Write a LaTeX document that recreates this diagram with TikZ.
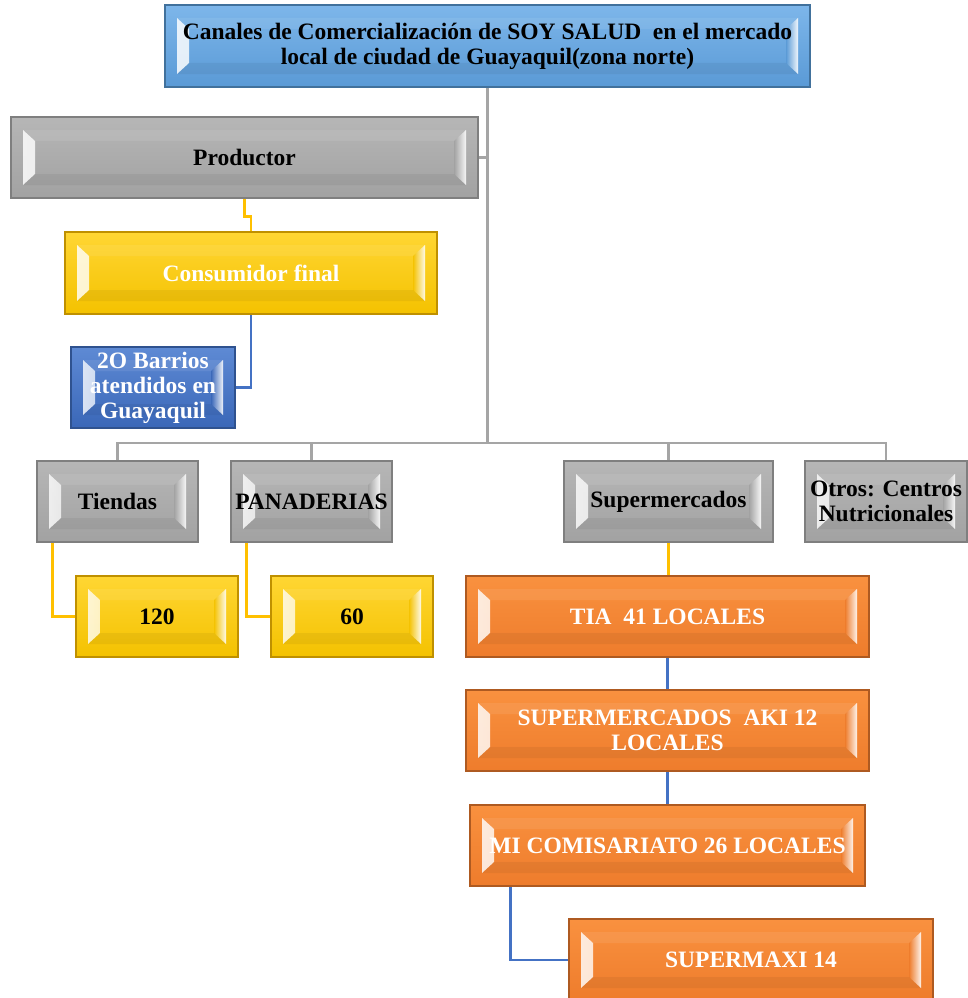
\documentclass[tikz,border=0pt]{standalone}
\usepackage{fontspec}
\setmainfont{Liberation Serif}
\usetikzlibrary{backgrounds}
\definecolor{gTop}{HTML}{B6B6B6}\definecolor{gBot}{HTML}{A2A2A2}\definecolor{gBrd}{HTML}{7F7F7F}
\definecolor{tTop}{HTML}{7DB6EA}\definecolor{tBot}{HTML}{5A9AD6}\definecolor{tBrd}{HTML}{41719C}
\definecolor{yTop}{HTML}{FFD633}\definecolor{yBot}{HTML}{F4C200}\definecolor{yBrd}{HTML}{BF9000}
\definecolor{bTop}{HTML}{5E8AD4}\definecolor{bBot}{HTML}{3A67B8}\definecolor{bBrd}{HTML}{2F528F}
\definecolor{oTop}{HTML}{F9913F}\definecolor{oBot}{HTML}{EE7C2C}\definecolor{oBrd}{HTML}{AE5A21}
\definecolor{lnG}{HTML}{A5A5A5}\definecolor{lnY}{HTML}{FFC000}\definecolor{lnB}{HTML}{4472C4}
\tikzset{
  bev/.style n args={3}{draw=#3, line width=1.3pt, inner sep=0pt, align=center,
    top color=#1, bottom color=#2,
    font=\bfseries\fontsize{23.5}{25}\selectfont,
    path picture={
      \shade[left color=white, right color=#1, opacity=.85]
        ([shift={(12pt,-13pt)}]path picture bounding box.north west) --
        ([shift={(24pt,-24pt)}]path picture bounding box.north west) --
        ([shift={(24pt,24pt)}]path picture bounding box.south west) --
        ([shift={(12pt,13pt)}]path picture bounding box.south west) -- cycle;
      \shade[left color=#2, right color=white, opacity=.9]
        ([shift={(-12pt,-13pt)}]path picture bounding box.north east) --
        ([shift={(-24pt,-24pt)}]path picture bounding box.north east) --
        ([shift={(-24pt,24pt)}]path picture bounding box.south east) --
        ([shift={(-12pt,13pt)}]path picture bounding box.south east) -- cycle;
      \fill[white, opacity=.08]
        ([shift={(12pt,-13pt)}]path picture bounding box.north west) --
        ([shift={(-12pt,-13pt)}]path picture bounding box.north east) --
        ([shift={(-24pt,-24pt)}]path picture bounding box.north east) --
        ([shift={(24pt,-24pt)}]path picture bounding box.north west) -- cycle;
      \fill[black, opacity=.05]
        ([shift={(12pt,13pt)}]path picture bounding box.south west) --
        ([shift={(-12pt,13pt)}]path picture bounding box.south east) --
        ([shift={(-24pt,24pt)}]path picture bounding box.south east) --
        ([shift={(24pt,24pt)}]path picture bounding box.south west) -- cycle;
    }},
  graybox/.style={bev={gTop}{gBot}{gBrd}, text=black},
  titlebox/.style={bev={tTop}{tBot}{tBrd}, text=black},
  yelbox/.style={bev={yTop}{yBot}{yBrd}},
  bluebox/.style={bev={bTop}{bBot}{bBrd}, text=white},
  orbox/.style={bev={oTop}{oBot}{oBrd}, text=white},
  gline/.style={draw=lnG, line width=2.6pt},
  yline/.style={draw=lnY, line width=2.4pt},
  bline/.style={draw=lnB, line width=2.4pt},
}
\begin{document}
\begin{tikzpicture}[x=1pt,y=-1pt]
\begin{scope}[on background layer]
\fill[white] (0,0) rectangle (968,998);
\end{scope}
\useasboundingbox (0,0) rectangle (968,998);
\node[titlebox, minimum width=645pt, minimum height=82pt] (title) at (487.5,46)
  {Canales de Comercialización de SOY SALUD\ \ en el mercado\\local de ciudad de Guayaquil(zona norte)};
\node[graybox, minimum width=467pt, minimum height=81pt] (prod) at (244.5,157.5) {Productor};
\node[yelbox, text=white, minimum width=372pt, minimum height=82pt] (cons) at (251,273) {Consumidor final};
\node[bluebox, minimum width=164pt, minimum height=81pt] (barr) at (153,387.5) {2O Barrios\\atendidos en\\Guayaquil};
\node[graybox, minimum width=161pt, minimum height=81pt] (tie) at (117.5,501.5) {Tiendas};
\node[graybox, minimum width=161pt, minimum height=81pt] (pan) at (311.5,501.5) {PANADERIAS};
\node[graybox, minimum width=209pt, minimum height=81pt] (sup) at (668.5,501.5) {Supermercados};
\node[graybox, minimum width=162pt, minimum height=81pt] (otr) at (886,501.5) {Otros: Centros\\Nutricionales};
\node[yelbox, text=black, minimum width=162pt, minimum height=81pt] (n120) at (157,616.5) {120};
\node[yelbox, text=black, minimum width=162pt, minimum height=81pt] (n60) at (352,616.5) {60};
\node[orbox, minimum width=403pt, minimum height=81pt] (tia) at (667.5,616.5) {TIA\ \ 41 LOCALES};
\node[orbox, minimum width=403pt, minimum height=81pt] (aki) at (667.5,730.5) {SUPERMERCADOS\ \ AKI 12\\LOCALES};
\node[orbox, minimum width=395pt, minimum height=81pt] (mic) at (667.5,845.5) {MI COMISARIATO 26 LOCALES};
\node[orbox, minimum width=364pt, minimum height=82pt] (smx) at (751,960) {SUPERMAXI 14};
\coordinate (hub) at (487.5,443);
\begin{scope}[on background layer]
\draw[gline] (title.south) -- (hub);
\draw[gline] (prod.east) -- (prod.east -| hub);
\draw[gline] (tie.north) |- (hub) -| (otr.north);
\draw[gline] (pan.north) -- (pan.north |- hub);
\draw[gline] (sup.north) -- (sup.north |- hub);
\draw[yline] (prod.south) -- ++(0,18) -| (cons.north);
\draw[bline] (cons.south) |- (barr.east);
\draw[yline] ([xshift=-65pt]tie.south) |- (n120.west);
\draw[yline] ([xshift=-65pt]pan.south) |- (n60.west);
\draw[yline] (sup.south) -- (sup.south |- tia.north);
\draw[bline] (tia.south) -- (aki.north);
\draw[bline] (aki.south) -- (mic.north);
\draw[bline] ([xshift=-157pt]mic.south) |- (smx.west);
\end{scope}
\end{tikzpicture}
\end{document}
